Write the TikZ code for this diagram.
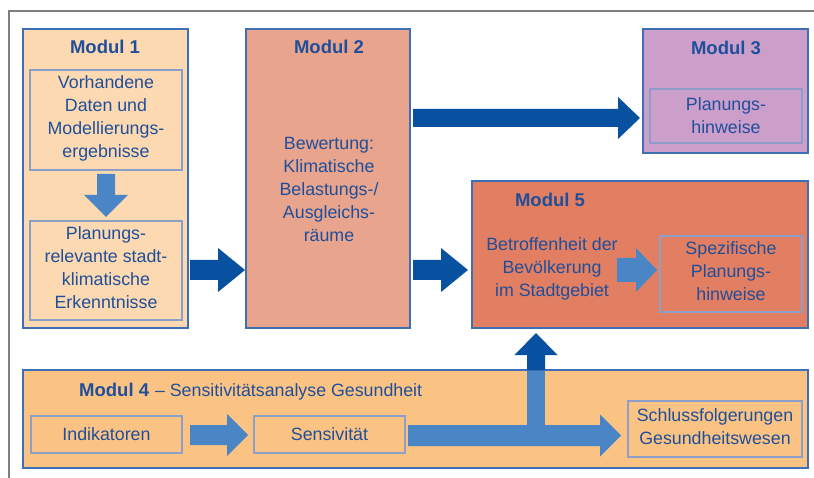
\documentclass[tikz,border=0pt]{standalone}
\usepackage{fontspec}
\setmainfont{Liberation Sans}
\usetikzlibrary{calc,fit}
\definecolor{cMone}{HTML}{FCD9B1}
\definecolor{cMtwo}{HTML}{E8A48C}
\definecolor{cMthree}{HTML}{CC9FCB}
\definecolor{cMfour}{HTML}{FAC384}
\definecolor{cMfive}{HTML}{E27E62}
\definecolor{bordblue}{HTML}{3E6EB4}
\definecolor{innerblue}{HTML}{8C9FC9}
\definecolor{darkarr}{HTML}{0751A0}
\definecolor{lightarr}{HTML}{4A86C6}
\definecolor{tblue}{HTML}{1F4F9B}
\definecolor{framegray}{HTML}{7F7F7F}
% horizontal block arrow: colour, tail, tip, shaft half width, head half width, head length
\newcommand{\harrow}[6]{\fill[#1] let \p1=(#2),\p2=(#3) in
  (\x1,\y1+#4pt) -- (\x2-#6pt,\y1+#4pt) -- (\x2-#6pt,\y1+#5pt) -- (\x2,\y1)
  -- (\x2-#6pt,\y1-#5pt) -- (\x2-#6pt,\y1-#4pt) -- (\x1,\y1-#4pt) -- cycle;}
% upward block arrow
\newcommand{\uarrow}[6]{\fill[#1] let \p1=(#2),\p2=(#3) in
  (\x1-#4pt,\y1) -- (\x1-#4pt,\y2-#6pt) -- (\x1-#5pt,\y2-#6pt) -- (\x1,\y2)
  -- (\x1+#5pt,\y2-#6pt) -- (\x1+#4pt,\y2-#6pt) -- (\x1+#4pt,\y1) -- cycle;}
% downward block arrow
\newcommand{\darrow}[6]{\fill[#1] let \p1=(#2),\p2=(#3) in
  (\x1-#4pt,\y1) -- (\x1-#4pt,\y2+#6pt) -- (\x1-#5pt,\y2+#6pt) -- (\x1,\y2)
  -- (\x1+#5pt,\y2+#6pt) -- (\x1+#4pt,\y2+#6pt) -- (\x1+#4pt,\y1) -- cycle;}
\begin{document}
\begin{tikzpicture}[x=1pt,y=-1pt,
  modbox/.style={draw=bordblue, line width=1.8pt, inner sep=0pt},
  innerbox/.style={draw=innerblue, line width=1.2pt, inner sep=0pt},
  txt/.style={align=center, text=tblue, inner sep=0pt, font=\fontsize{17.8}{23}\selectfont},
  title/.style={text=tblue, inner sep=0pt, font=\bfseries\fontsize{18.5}{22}\selectfont}]
\useasboundingbox (0,0) rectangle (814,478);
\fill[white] (0,0) rectangle (814,478);
% frame
\draw[framegray, line width=1.5pt] (9,478) -- (9,11) -- (814,11);

% module boxes
\node[modbox, fill=cMone, fit={(23,29) (188,328)}] (m1) {};
\node[modbox, fill=cMtwo, fit={(246,29) (410,328)}] (m2) {};
\node[modbox, fill=cMthree, fit={(643,29) (808,153)}] (m3) {};
\node[modbox, fill=cMfive, fit={(472,181) (808,328)}] (m5) {};
\node[modbox, fill=cMfour, fit={(23,370) (808,468)}] (m4) {};

% inner boxes
\node[innerbox, fit={(30,70) (182,170)}] (m1a) {};
\node[innerbox, fit={(30,221) (182,320)}] (m1b) {};
\node[innerbox, fit={(650,89) (802,143)}] (m3a) {};
\node[innerbox, fit={(660,236) (802,312)}] (m5b) {};
\node[innerbox, fit={(31,416) (182,453)}] (m4a) {};
\node[innerbox, fit={(254,416) (405,453)}] (m4b) {};
\node[innerbox, fit={(628,401) (802,457)}] (m4c) {};

% titles
\node[title] (t1) at (105,47) {Modul 1};
\node[title] (t2) at (329,47) {Modul 2};
\node[title] (t3) at (726,48) {Modul 3};
\node[title] (t5) at (550,200) {Modul 5};
\node[txt, anchor=west] (t4) at (79,392) {{\bfseries\fontsize{18.5}{22}\selectfont Modul 4}\hspace{1pt} -- Sensitivitätsanalyse Gesundheit};

% texts
\node[txt] (x1a) at (106,118.5) {Vorhandene\\Daten und\\Modellierungs-\\ergebnisse};
\node[txt] (x1b) at (106,268) {Planungs-\\relevante stadt-\\klimatische\\Erkenntnisse};
\node[txt] (x2) at (329,189) {Bewertung:\\Klimatische\\Belastungs-/\\Ausgleichs-\\räume};
\node[txt] (x3) at (726,115.5) {Planungs-\\hinweise};
\node[txt] (x5a) at (552,268.5) {Betroffenheit der\\Bevölkerung\\im Stadtgebiet};
\node[txt] (x5b) at (731,271.5) {Spezifische\\Planungs-\\hinweise};
\node[txt] (x4a) at (106.5,434.5) {Indikatoren};
\node[txt] (x4b) at (329.5,434.5) {Sensivität};
\node[txt] (x4c) at (715,426.5) {Schlussfolgerungen\\Gesundheitswesen};

% arrow end points
\coordinate (a11s) at (106,174);   \coordinate (a11e) at (106,217);
\coordinate (a12s) at (190,270);   \coordinate (a12e) at (245,270);
\coordinate (a23s) at (413,118);   \coordinate (a23e) at (640,118);
\coordinate (a25s) at (413,270);   \coordinate (a25e) at (468,270);
\coordinate (a55s) at (617,270);   \coordinate (a55e) at (657,270);
\coordinate (a44s) at (190,435);   \coordinate (a44e) at (248,435);
\coordinate (a4cs) at (408,435.5); \coordinate (a4ce) at (621,435.5);
\coordinate (a45s) at (536,370);   \coordinate (a45e) at (536,333);

% arrows
\darrow{lightarr}{a11s}{a11e}{9}{22}{22}
\harrow{darkarr}{a12s}{a12e}{10}{22}{27}
\harrow{darkarr}{a23s}{a23e}{9}{21}{22}
\harrow{darkarr}{a25s}{a25e}{10}{22}{27}
\harrow{lightarr}{a55s}{a55e}{12}{22}{21}
\harrow{lightarr}{a44s}{a44e}{10}{21}{21}
\harrow{lightarr}{a4cs}{a4ce}{10.5}{21}{21}
\fill[lightarr] (527,371) rectangle (545,436);
\uarrow{darkarr}{a45s}{a45e}{9}{21.5}{22}
\end{tikzpicture}
\end{document}
